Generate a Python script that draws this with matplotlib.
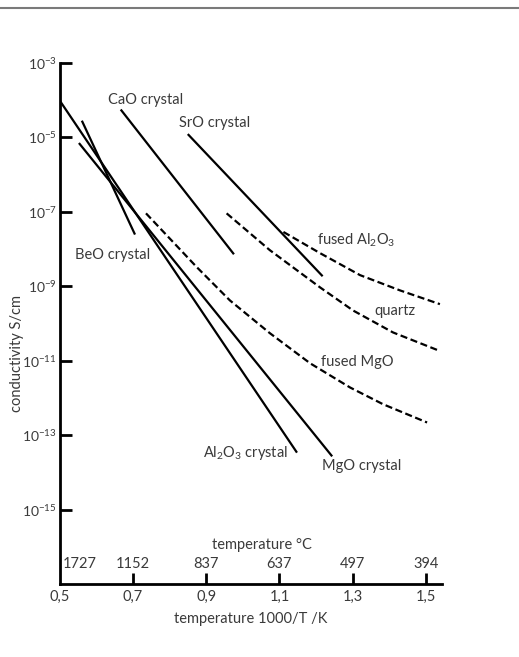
import matplotlib
matplotlib.use("Agg")
import matplotlib.pyplot as plt
from matplotlib.lines import Line2D
from matplotlib.transforms import blended_transform_factory
import numpy as np

plt.rcParams['font.family'] = ['Lato', 'DejaVu Sans']
plt.rcParams['mathtext.fontset'] = 'custom'
plt.rcParams['mathtext.rm'] = 'Lato'
plt.rcParams['mathtext.it'] = 'Lato:italic'
plt.rcParams['mathtext.bf'] = 'Lato:bold'

TXT = '#3a3a3a'

# ---- data (x = 1000/T in 1/K, y = log10 conductivity S/cm) ----
al2o3_cr_x = [0.500, 1.148]
al2o3_cr_ly = [-4.00, -13.47]
mgo_cr_x = [0.553, 1.244]
mgo_cr_ly = [-5.15, -13.57]
beo_cr_x = [0.561, 0.706]
beo_cr_ly = [-4.55, -7.61]
cao_cr_x = [0.667, 0.976]
cao_cr_ly = [-4.25, -8.14]
sro_cr_x = [0.850, 1.218]
sro_cr_ly = [-4.91, -8.73]

fal2o3_x = [1.111, 1.211, 1.320, 1.429, 1.538]
fal2o3_ly = [-7.54, -8.11, -8.70, -9.11, -9.48]
quartz_x = [0.956, 1.074, 1.211, 1.301, 1.410, 1.533]
quartz_ly = [-7.04, -8.03, -9.03, -9.65, -10.24, -10.72]
fmgo_x = [0.736, 0.875, 0.965, 1.074, 1.184, 1.293, 1.383, 1.503]
fmgo_ly = [-7.04, -8.49, -9.38, -10.26, -11.07, -11.72, -12.17, -12.66]

x_ticks = [0.5, 0.7, 0.9, 1.1, 1.3, 1.5]
x_ticklabels = ['0,5', '0,7', '0,9', '1,1', '1,3', '1,5']
y_tick_exp = [-3, -5, -7, -9, -11, -13, -15]
tempC_labels = ['1727', '1152', '837', '637', '497', '394']
tempC_pos = [0.556, 0.7, 0.9, 1.1, 1.3, 1.5]

FS = 10.5

fig = plt.figure(figsize=(5.19, 6.57), dpi=100)
ax = fig.add_axes([59.5/519, 1-584/657, (442-59.5)/519, (584-63)/657])

solid = dict(color='black', lw=1.6, solid_capstyle='butt')
dashed = dict(color='black', lw=1.6, linestyle=(0, (3.2, 1.6)), dash_capstyle='butt')

def p(x, ly, **kw):
    ax.plot(x, 10.0**np.array(ly), **kw)

p(al2o3_cr_x, al2o3_cr_ly, **solid)
p(mgo_cr_x, mgo_cr_ly, **solid)
p(beo_cr_x, beo_cr_ly, **solid)
p(cao_cr_x, cao_cr_ly, **solid)
p(sro_cr_x, sro_cr_ly, **solid)
p(fal2o3_x, fal2o3_ly, **dashed)
p(quartz_x, quartz_ly, **dashed)
p(fmgo_x, fmgo_ly, **dashed)

ax.set_yscale('log')
ax.set_xlim(0.5, 1.5437)
ax.set_ylim(1e-17, 1e-3)
ax.set_yticks([10.0**e for e in y_tick_exp])
ax.set_yticklabels([r'$10^{%d}$' % e for e in y_tick_exp])
ax.minorticks_off()
ax.set_xticks(x_ticks)
ax.set_xticklabels(x_ticklabels)

for s in ['top', 'right']:
    ax.spines[s].set_visible(False)
for s in ['left', 'bottom']:
    ax.spines[s].set_linewidth(2.0)
ax.tick_params(axis='y', direction='in', length=8.5, width=2.0, pad=2,
               labelsize=10, labelcolor=TXT)
ax.tick_params(axis='x', direction='in', length=8, width=2.0, pad=4,
               labelsize=FS, labelcolor=TXT)
ax.xaxis.get_major_ticks()[0].tick1line.set_visible(False)

ax.set_ylabel('conductivity S/cm', fontsize=FS, color=TXT)
ax.yaxis.set_label_coords(-0.092, 0.443)
ax.set_xlabel('temperature 1000/T /K', fontsize=FS, color=TXT, labelpad=6)

tr = blended_transform_factory(ax.transData, ax.transAxes)
for lab, xp in zip(tempC_labels, tempC_pos):
    ax.text(xp, 0.038, lab, transform=tr, ha='center', va='center',
            fontsize=FS, color=TXT)
ax.text(262/519, 1-545/657, 'temperature °C', transform=fig.transFigure,
        ha='center', va='center', fontsize=FS, color=TXT)

labels = [
    (0.632, -3.99, 'CaO crystal'),
    (0.826, -4.61, 'SrO crystal'),
    (0.542, -8.17, 'BeO crystal'),
    (1.203, -7.76, r'fused Al$_\mathregular{2}$O$_\mathregular{3}$'),
    (1.358, -9.67, 'quartz'),
    (1.214, -11.04, 'fused MgO'),
    (0.892, -13.49, r'Al$_\mathregular{2}$O$_\mathregular{3}$ crystal'),
    (1.216, -13.82, 'MgO crystal'),
]
for x, ly, t in labels:
    ax.text(x, 10.0**ly, t, ha='left', va='center', fontsize=FS, color=TXT)

fig.add_artist(Line2D([0, 1], [1-8/657, 1-8/657], transform=fig.transFigure,
                      color='#7a7a7a', lw=1.5))

fig.savefig('out.png', dpi=100)
